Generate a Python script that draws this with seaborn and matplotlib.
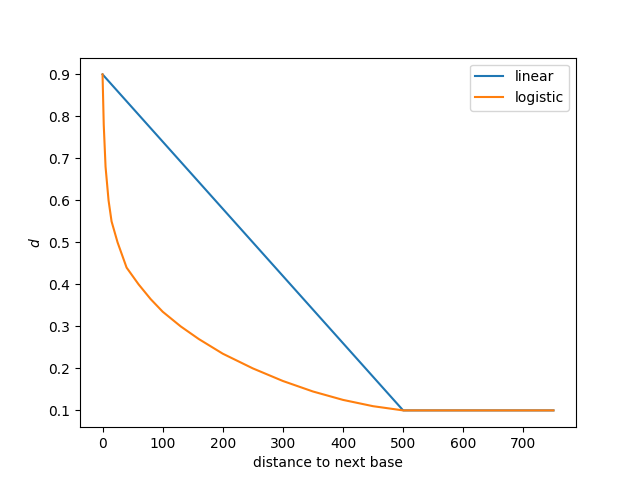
import matplotlib
matplotlib.use("Agg")
import matplotlib.pyplot as plt
import pandas as pd
import seaborn as sns

linear_x = [0, 500, 750]
linear_y = [0.9, 0.1, 0.1]

logistic_x = [0, 2, 5, 10, 15, 25, 40, 60, 80, 100, 130, 160, 200, 250, 300,
              350, 400, 450, 500, 600, 750]
logistic_y = [0.9, 0.78, 0.68, 0.6, 0.55, 0.5, 0.44, 0.4, 0.365, 0.335, 0.3,
              0.27, 0.235, 0.2, 0.17, 0.145, 0.125, 0.11, 0.1, 0.1, 0.1]

df = pd.concat([
    pd.DataFrame({"x": linear_x, "y": linear_y, "kind": "linear"}),
    pd.DataFrame({"x": logistic_x, "y": logistic_y, "kind": "logistic"}),
])

fig, ax = plt.subplots(figsize=(6.4, 4.8), dpi=100)
sns.lineplot(data=df, x="x", y="y", hue="kind", ax=ax, sort=False,
             palette=["#1f77b4", "#ff7f0e"], estimator=None)
ax.legend(loc="upper right")
ax.set_xlabel("distance to next base")
ax.set_ylabel("$d$")
fig.savefig("out.png")
